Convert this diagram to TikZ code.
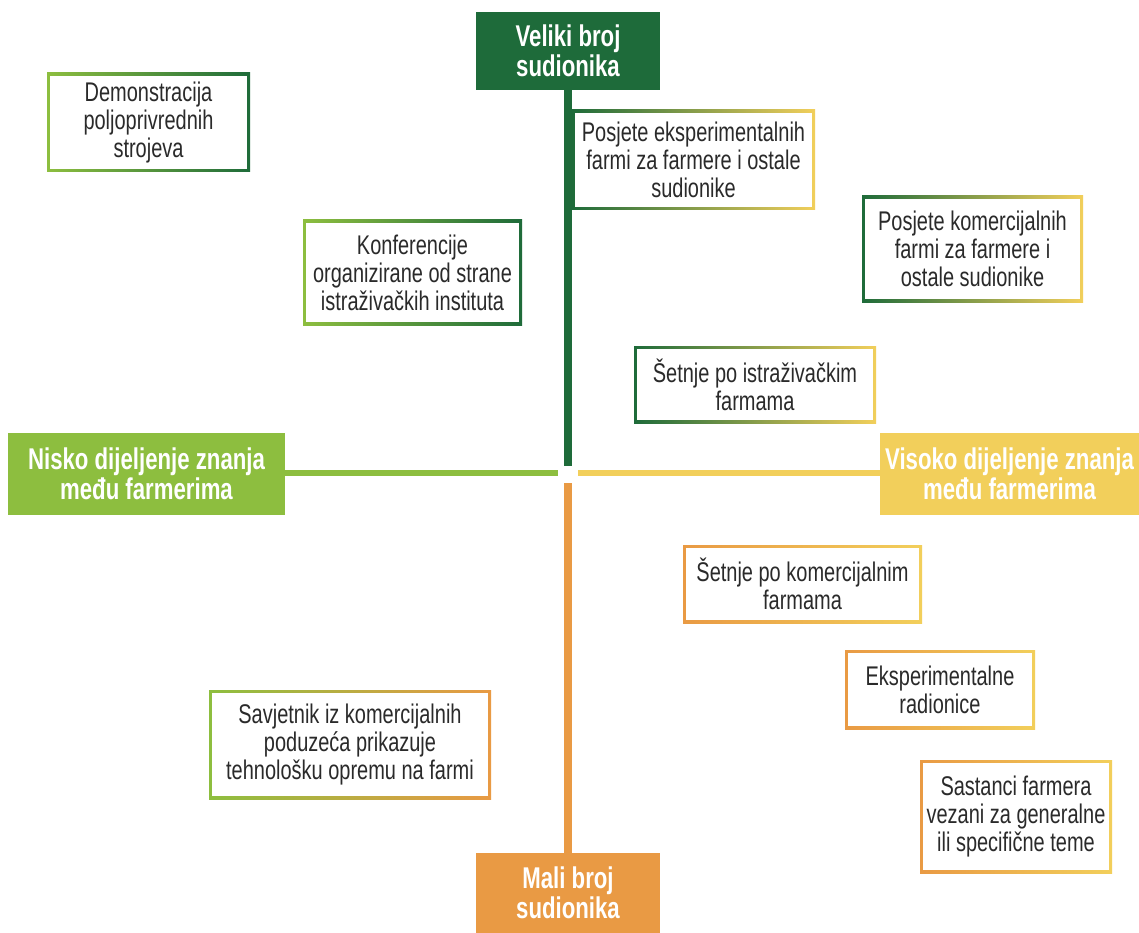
\documentclass[tikz,border=0pt]{standalone}
\usepackage{fontspec}
\setmainfont[FakeStretch=0.74]{Liberation Sans}
\definecolor{dgreen}{HTML}{1E6B3A}
\definecolor{lgreen}{HTML}{8DBE3F}
\definecolor{yel}{HTML}{F2CF5B}
\definecolor{ora}{HTML}{E99A44}
\definecolor{txt}{HTML}{2A2A2A}
\tikzset{
  gbox/.style 2 args={align=center, inner sep=0pt, text=txt,
    font=\fontsize{27}{28}\selectfont,
    path picture={
      \shade[left color=#1, right color=#2] (path picture bounding box.south west) rectangle (path picture bounding box.north east);
      \fill[white] ([xshift=3pt,yshift=3pt]path picture bounding box.south west) rectangle ([xshift=-3pt,yshift=-3pt]path picture bounding box.north east);
    }},
  head/.style={align=center, inner sep=0pt, text=white, fill=#1,
    font=\bfseries\fontsize{30}{30}\selectfont},
  axis/.style={draw=#1, line width=7pt}
}
\begin{document}
\begin{tikzpicture}[x=1pt,y=-1pt]
\useasboundingbox[fill=white] (0,0) rectangle (1139,933);
% headers
\node[head=dgreen, minimum width=184pt, minimum height=78pt] (top) at (568,51) {Veliki broj\\sudionika};
\node[head=lgreen, minimum width=277pt, minimum height=82pt] (left) at (146.5,474) {Nisko dijeljenje znanja\\među farmerima};
\node[head=yel, minimum width=259pt, minimum height=82pt] (right) at (1009.5,474) {Visoko dijeljenje znanja\\među farmerima};
\node[head=ora, minimum width=184pt, minimum height=80pt] (bottom) at (568,893) {Mali broj\\sudionika};
% axis ends
\coordinate (ct) at (568,466);
\coordinate (cb) at (568,483);
\coordinate (cl) at (558,473);
\coordinate (cr) at (578,473);
\draw[axis=dgreen, line width=8pt] (top.south) -- (ct);
\draw[axis=ora, line width=8pt] (cb) -- (bottom.north);
\draw[axis=lgreen, line width=6pt] (left.east |- cl) -- (cl);
\draw[axis=yel, line width=6pt] (cr) -- (right.west |- cr);
% boxes
\node[gbox={lgreen}{dgreen}, minimum width=203pt, minimum height=99pt] (demo) at (148.5,122.5) {Demonstracija\\poljoprivrednih\\strojeva};
\node[gbox={dgreen}{yel}, minimum width=243pt, minimum height=100pt] (peks) at (693.5,160) {Posjete eksperimentalnih\\farmi za farmere i ostale\\sudionike};
\node[gbox={lgreen}{dgreen}, minimum width=219pt, minimum height=105pt] (konf) at (412.5,272.5) {Konferencije\\organizirane od strane\\istraživačkih instituta};
\node[gbox={dgreen}{yel}, minimum width=221pt, minimum height=106pt] (pkom) at (972.5,249) {Posjete komercijalnih\\farmi za farmere i\\ostale sudionike};
\node[gbox={dgreen}{yel}, minimum width=242pt, minimum height=77pt] (sist) at (755,384.5) {Šetnje po istraživačkim\\farmama};
\node[gbox={ora}{yel}, minimum width=239pt, minimum height=78pt] (skom) at (802.5,584) {Šetnje po komercijalnim\\farmama};
\node[gbox={ora}{yel}, minimum width=190pt, minimum height=79pt] (eksp) at (940,689.5) {Eksperimentalne\\radionice};
\node[gbox={ora}{yel}, minimum width=192pt, minimum height=113pt] (sast) at (1016,816.5) {Sastanci farmera\\vezani za generalne\\ili specifične teme};
\node[gbox={lgreen}{ora}, minimum width=282pt, minimum height=109pt] (savj) at (350,744.5) {Savjetnik iz komercijalnih\\poduzeća prikazuje\\tehnološku opremu na farmi};
\end{tikzpicture}
\end{document}
